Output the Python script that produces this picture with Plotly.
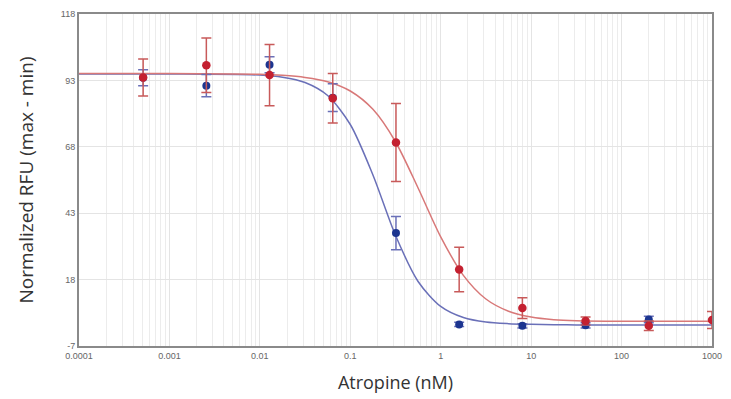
import plotly.graph_objects as go

# Concentrations (nM), 5-fold dilution series
conc = [0.000512, 0.00256, 0.0128, 0.064, 0.32, 1.6, 8, 40, 200, 1000]

# Red series (means and error)
red_y = [94.1, 98.7, 95.0, 86.3, 69.6, 21.8, 7.3, 2.4, 0.6, 2.8]
red_err = [7.0, 10.3, 11.5, 9.3, 14.7, 8.4, 3.9, 1.5, 1.8, 3.2]

# Blue series (means and error)
blue_y = [94.0, 91.0, 98.9, 86.5, 35.5, 1.1, 0.6, 0.8, 3.0, None]
blue_err = [3.0, 4.2, 3.0, 5.2, 6.3, 0.8, 0.8, 1.0, 1.2, None]

# Fitted curves
curve_x = [0.0001, 0.001, 0.01, 0.0178, 0.0316, 0.0562, 0.1, 0.178, 0.316,
           0.562, 1, 1.78, 3.16, 5.62, 10, 17.8, 31.6, 100, 1000]
blue_curve = [95.4, 95.4, 95.0, 94.2, 92.2, 87.3, 76.4, 57.4, 34.7,
              17.3, 7.9, 3.7, 2.0, 1.4, 1.15, 1.0, 0.95, 0.9, 0.9]
red_curve = [95.6, 95.6, 95.3, 94.9, 94.1, 92.5, 89.0, 82.1, 69.9,
             52.5, 34.1, 19.6, 10.7, 6.1, 3.9, 2.9, 2.5, 2.3, 2.3]

x_ticks = [0.0001, 0.001, 0.01, 0.1, 1, 10, 100, 1000]
x_ticktext = ["0.0001", "0.001", "0.01", "0.1", "1", "10", "100", "1000"]
y_ticks = [-7, 18, 43, 68, 93, 118]
y_ticktext = ["-7", "18", "43", "68", "93", "118"]

RED = "#c42030"
BLUE = "#1c3590"
RED_LINE = "#d87878"
BLUE_LINE = "#6a70b8"

fig = go.Figure()

fig.add_trace(go.Scatter(x=curve_x, y=blue_curve, mode="lines",
                         line=dict(color=BLUE_LINE, width=1.5, shape="spline", smoothing=0.8),
                         hoverinfo="skip", showlegend=False))
fig.add_trace(go.Scatter(x=curve_x, y=red_curve, mode="lines",
                         line=dict(color=RED_LINE, width=1.5, shape="spline", smoothing=0.8),
                         hoverinfo="skip", showlegend=False))

fig.add_trace(go.Scatter(x=conc, y=blue_y, mode="markers",
                         marker=dict(color=BLUE, size=8),
                         error_y=dict(type="data", array=blue_err, color=BLUE_LINE,
                                      thickness=1.5, width=5),
                         showlegend=False))
fig.add_trace(go.Scatter(x=conc, y=red_y, mode="markers",
                         marker=dict(color=RED, size=8.5),
                         error_y=dict(type="data", array=red_err, color="#c85a5a",
                                      thickness=1.5, width=5),
                         showlegend=False))

fig.update_layout(
    width=731, height=399,
    margin=dict(l=79, r=9, t=13, b=50),
    paper_bgcolor="white", plot_bgcolor="white",
    font=dict(family="Liberation Sans", color="#555"),
)

fig.update_xaxes(
    type="log", range=[-4, 3],
    tickvals=x_ticks, ticktext=x_ticktext,
    tickfont=dict(size=9, color="#666"),
    showgrid=True, gridcolor="#e4e4e4", gridwidth=1,
    minor=dict(dtick="D1", showgrid=True, gridcolor="#ececec", gridwidth=1),
    showline=True, linecolor="#8a8a8a", linewidth=2, mirror=True,
    ticks="", zeroline=False,
    title=dict(text="Atropine (nM)", font=dict(family="Open Sans", size=18, color="#333"),
               standoff=17),
)
fig.update_yaxes(
    range=[-7, 118],
    tickvals=y_ticks, ticktext=y_ticktext,
    tickfont=dict(size=9, color="#666"),
    showgrid=True, gridcolor="#e4e4e4", gridwidth=1,
    showline=True, linecolor="#8a8a8a", linewidth=2, mirror=True,
    ticks="", zeroline=False,
    title=dict(text="Normalized RFU (max - min)", font=dict(family="Open Sans", size=19, color="#333"),
               standoff=22),
)

fig.write_html("out.html")
